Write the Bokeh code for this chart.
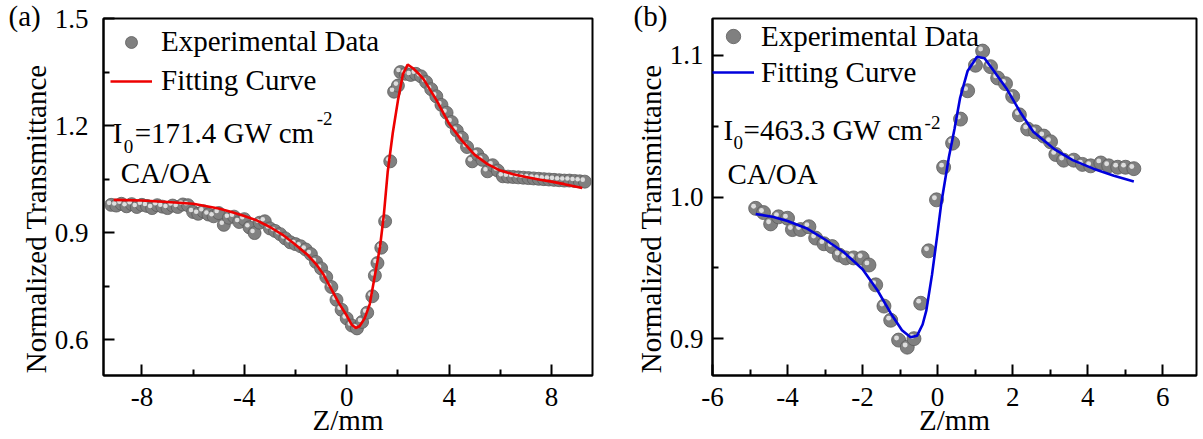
from bokeh.plotting import figure
from bokeh.layouts import row
from bokeh.models import Range1d, FixedTicker, PrintfTickFormatter, Legend, LegendItem, Label
from bokeh.transform import dodge
from bokeh.embed import file_html
from bokeh.resources import INLINE

# ---------------- Panel (a) data ----------------
a_exp_z = [-9.2, -9.0, -8.8, -8.6, -8.4, -8.2, -8.0, -7.8, -7.6, -7.4, -7.2, -7.0,
           -6.8, -6.6, -6.4, -6.2, -6.0, -5.8, -5.6, -5.4, -5.2, -5.0, -4.8, -4.6,
           -4.4, -4.2, -4.0, -3.8, -3.6, -3.4, -3.2, -3.0, -2.8, -2.6, -2.4, -2.2,
           -2.0, -1.8, -1.6, -1.4, -1.2, -1.0, -0.8, -0.6, -0.4, -0.2, 0.0, 0.2,
           0.4, 0.6, 0.8, 1.0, 1.1, 1.2, 1.35, 1.5, 1.7, 1.85, 2.0, 2.1, 2.3, 2.5,
           2.7, 2.9, 3.1, 3.3, 3.5, 3.7, 3.9, 4.1, 4.3, 4.5, 4.7, 4.9, 5.1, 5.3,
           5.5, 5.7, 5.9, 6.1, 6.3, 6.5, 6.7, 6.9, 7.1, 7.3, 7.5, 7.7, 7.9, 8.1,
           8.3, 8.5, 8.7, 8.9, 9.1, 9.3]
a_exp_t = [0.978, 0.976, 0.981, 0.974, 0.980, 0.972, 0.978, 0.975, 0.969, 0.977, 0.973, 0.969,
           0.976, 0.972, 0.979, 0.977, 0.958, 0.953, 0.960, 0.951, 0.946, 0.955, 0.922, 0.942,
           0.945, 0.930, 0.938, 0.915, 0.899, 0.928, 0.932, 0.912, 0.905, 0.896, 0.884, 0.873,
           0.868, 0.862, 0.853, 0.840, 0.818, 0.800, 0.776, 0.748, 0.712, 0.684, 0.660, 0.640,
           0.632, 0.650, 0.676, 0.722, 0.780, 0.815, 0.858, 0.932, 1.100, 1.295, 1.312, 1.350,
           1.345, 1.342, 1.345, 1.338, 1.322, 1.302, 1.282, 1.258, 1.236, 1.210, 1.186, 1.166,
           1.140, 1.100, 1.120, 1.104, 1.072, 1.089, 1.074, 1.058, 1.057, 1.056, 1.055, 1.054,
           1.053, 1.052, 1.051, 1.050, 1.049, 1.048, 1.047, 1.046, 1.046, 1.045, 1.044, 1.043]
a_fit_z = [-9.1, -8.0, -7.0, -6.0, -5.0, -4.5, -4.0, -3.5, -3.0, -2.5, -2.0, -1.5, -1.2,
           -0.9, -0.6, -0.3, 0.0, 0.2, 0.35, 0.5, 0.7, 0.9, 1.1, 1.3, 1.45, 1.6, 1.8, 2.0,
           2.2, 2.38, 2.6, 2.8, 3.0, 3.5, 4.0, 4.5, 5.0, 5.5, 6.0, 6.5, 7.0, 7.5, 8.0, 8.5, 9.2]
a_fit_t = [0.992, 0.990, 0.986, 0.981, 0.968, 0.958, 0.947, 0.934, 0.916, 0.894, 0.866, 0.836, 0.812,
           0.782, 0.742, 0.702, 0.668, 0.642, 0.633, 0.638, 0.660, 0.700, 0.780, 0.860, 0.950, 1.070, 1.180, 1.270,
           1.345, 1.371, 1.360, 1.346, 1.330, 1.272, 1.205, 1.158, 1.118, 1.092, 1.074, 1.064, 1.056, 1.049, 1.043, 1.036, 1.025]

# ---------------- Panel (b) data ----------------
b_exp_z = [-4.85, -4.64, -4.45, -4.24, -4.0, -3.87, -3.65, -3.43, -3.25, -3.03, -2.81, -2.62,
           -2.45, -2.24, -2.01, -1.83, -1.65, -1.43, -1.25, -1.04, -0.81, -0.63, -0.45, -0.24,
           -0.03, 0.16, 0.40, 0.61, 0.80, 1.01, 1.20, 1.41, 1.60, 1.81, 2.00, 2.18, 2.40, 2.61,
           2.83, 3.01, 3.15, 3.36, 3.63, 3.86, 4.08, 4.35, 4.56, 4.80, 5.01, 5.23]
b_exp_t = [0.992, 0.989, 0.981, 0.986, 0.985, 0.977, 0.977, 0.979, 0.971, 0.967, 0.965, 0.959,
           0.957, 0.957, 0.957, 0.952, 0.938, 0.923, 0.913, 0.899, 0.894, 0.900, 0.925, 0.962,
           0.998, 1.021, 1.038, 1.055, 1.075, 1.093, 1.103, 1.092, 1.084, 1.080, 1.071, 1.058,
           1.048, 1.046, 1.043, 1.039, 1.030, 1.026, 1.026, 1.023, 1.022, 1.024, 1.022, 1.021,
           1.021, 1.020]
b_fit_z = [-4.85, -4.4, -4.0, -3.5, -3.0, -2.5, -2.0, -1.6, -1.25, -0.95, -0.72, -0.55, -0.4,
           -0.3, -0.15, 0.0, 0.1, 0.2, 0.3, 0.45, 0.6, 0.8, 1.05, 1.25, 1.5, 1.85, 2.2, 2.55,
           3.1, 3.6, 4.15, 4.7, 5.23]
b_fit_t = [0.988, 0.986, 0.983, 0.978, 0.970, 0.961, 0.949, 0.934, 0.918, 0.906, 0.901, 0.902, 0.910,
           0.920, 0.945, 0.975, 0.996, 1.012, 1.028, 1.048, 1.070, 1.089, 1.099, 1.098, 1.089, 1.076, 1.060, 1.046,
           1.034, 1.026, 1.020, 1.015, 1.011]

# ---------------- Ticks and texts ----------------
a_xticks = [-8, -4, 0, 4, 8]
a_xminor = [-6, -2, 2, 6]
a_yticks = [0.6, 0.9, 1.2, 1.5]
a_yminor = [0.75, 1.05, 1.35]
b_xticks = [-6, -4, -2, 0, 2, 4, 6]
b_xminor = [-5, -3, -1, 1, 3, 5]
b_yticks = [0.9, 1.0, 1.1]
b_yminor = [0.95, 1.05]

x_title = "Z/mm"
y_title = "Normalized Transmittance"
leg_exp = "Experimental Data"
leg_fit = "Fitting Curve"
a_tag, b_tag = "(a)", "(b)"
a_intensity = "=171.4 GW cm"
b_intensity = "=463.3 GW cm"
ratio_text = "CA/OA"

FONT = "Liberation Serif"


def make_panel(xs, ys, fx, fy, color, xr, yr, xt, xm, yt, ym, w, h, bl, br, bt, bb,
               msize, hx, hy, ystand, tag, tag_offset):
    p = figure(width=w, height=h, x_range=Range1d(*xr), y_range=Range1d(*yr),
               output_backend="svg", toolbar_location=None,
               min_border_left=bl, min_border_right=br, min_border_top=bt, min_border_bottom=bb)
    p.grid.visible = False
    p.outline_line_color = "black"
    p.outline_line_width = 2
    p.outline_line_alpha = 1
    p.background_fill_color = "white"
    p.border_fill_color = "white"

    # panel tag "(a)" / "(b)" drawn as a title pulled into the top-left corner
    p.title.text = tag
    p.title.align = "left"
    p.title.offset = tag_offset
    p.title.standoff = -30
    p.title.vertical_align = "top"
    p.title.text_font = FONT
    p.title.text_font_size = "29px"
    p.title.text_font_style = "normal"
    p.title.text_color = "black"

    src = dict(x=xs, y=ys)
    r_base = p.scatter(x="x", y="y", source=src, size=msize, fill_color="#808080",
                       line_color="#5c5c5c", line_width=0.8)
    p.scatter(x=dodge("x", -hx, range=p.x_range), y=dodge("y", hy, range=p.y_range),
              source=src, size=msize * 0.35, fill_color="#dedede", line_color=None)
    r_line = p.line(fx, fy, line_color=color, line_width=2.6)

    xa, ya = p.xaxis[0], p.yaxis[0]
    xa.ticker = FixedTicker(ticks=xt, minor_ticks=xm)
    ya.ticker = FixedTicker(ticks=yt, minor_ticks=ym)
    xa.formatter = PrintfTickFormatter(format="%d")
    ya.formatter = PrintfTickFormatter(format="%.1f")
    for ax in (xa, ya):
        ax.axis_line_width = 2
        ax.axis_line_color = "black"
        ax.major_tick_in = 11
        ax.major_tick_out = 0
        ax.minor_tick_in = 6
        ax.minor_tick_out = 0
        ax.major_tick_line_width = 2
        ax.minor_tick_line_width = 2
        ax.major_tick_line_color = "black"
        ax.minor_tick_line_color = "black"
        ax.major_label_text_font = FONT
        ax.major_label_text_font_size = "27px"
        ax.major_label_text_color = "black"
        ax.axis_label_text_font = FONT
        ax.axis_label_text_font_size = "29px"
        ax.axis_label_text_font_style = "normal"
        ax.axis_label_text_color = "black"
    xa.axis_label = x_title
    ya.axis_label = y_title + "\u00a0" * 6
    xa.major_label_standoff = 12
    xa.axis_label_standoff = -5
    ya.major_label_standoff = ystand
    ya.axis_label_standoff = 0

    legend = Legend(items=[LegendItem(label=leg_exp, renderers=[r_base]),
                           LegendItem(label=leg_fit, renderers=[r_line])],
                    location="top_left")
    legend.border_line_color = None
    legend.background_fill_alpha = 0
    legend.label_text_font = FONT
    legend.label_text_font_size = "29px"
    legend.label_text_color = "black"
    legend.glyph_width = 42
    p.add_layout(legend)
    return p, legend


pa, la = make_panel(a_exp_z, a_exp_t, a_fit_z, a_fit_t, "#ee0000", (-9.5, 9.6), (0.5, 1.5),
                    a_xticks, a_xminor, a_yticks, a_yminor, 600, 439, 103, 8, 18, 61,
                    13, 0.08, 0.0056, 15, a_tag, -95)
la.glyph_height = 30
la.label_height = 30
la.spacing = 6
la.margin = 7
la.padding = 5
la.label_standoff = 9

pb, lb = make_panel(b_exp_z, b_exp_t, b_fit_z, b_fit_t, "#0000dd", (-6.0, 6.9), (0.874, 1.126),
                    b_xticks, b_xminor, b_yticks, b_yminor, 603, 439, 112, 7, 15, 64,
                    14, 0.055, 0.0015, 9, b_tag, -79)
lb.glyph_height = 36
lb.label_height = 36
lb.spacing = 0
lb.margin = 0
lb.padding = 3
lb.label_standoff = 7


def add_text(p, x, y, text, size):
    p.add_layout(Label(x=x, y=y, text=text, text_font=FONT, text_font_size=size,
                       text_color="black", text_baseline="alphabetic", text_align="left"))


# panel (a) annotations
add_text(pa, -9.14, 1.178, "I", "29px")
add_text(pa, -8.71, 1.142, "0", "19px")
add_text(pa, -8.28, 1.178, a_intensity, "29px")
add_text(pa, -1.17, 1.220, "-2", "19px")
add_text(pa, -8.83, 1.066, ratio_text, "29px")

# panel (b) annotations
add_text(pb, -5.707, 1.0476, "I", "29px")
add_text(pb, -5.44, 1.0385, "0", "19px")
add_text(pb, -5.173, 1.0476, b_intensity, "29px")
add_text(pb, -0.347, 1.0524, "-2", "19px")
add_text(pb, -5.6, 1.016, ratio_text, "29px")

layout = row(pa, pb)
open("out.html", "w").write(file_html(layout, INLINE))
